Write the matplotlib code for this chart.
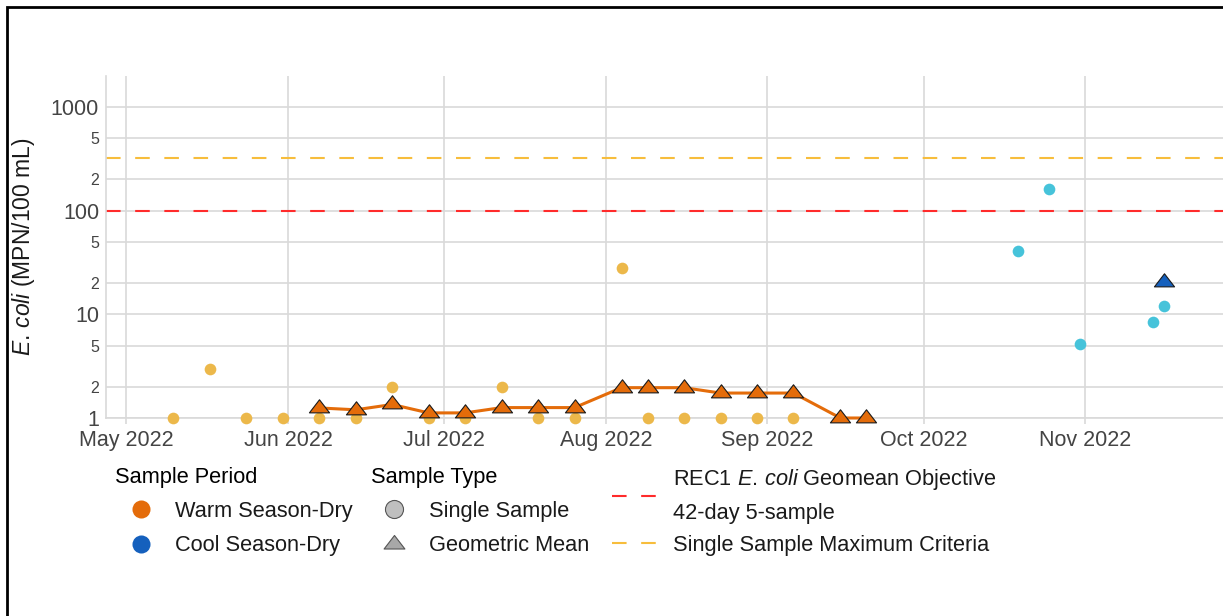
# Serie temporal de E. coli (escala log) con media geométrica
import numpy as np
import pandas as pd
import matplotlib
matplotlib.use("Agg")
import matplotlib.pyplot as plt
import matplotlib.dates as mdates
from matplotlib.lines import Line2D
from matplotlib.path import Path
from matplotlib.patches import Rectangle

plt.rcParams['font.family'] = ['Liberation Sans', 'DejaVu Sans']
plt.rcParams['mathtext.fontset'] = 'custom'
plt.rcParams['mathtext.rm'] = 'Liberation Sans'
plt.rcParams['mathtext.it'] = 'Liberation Sans:italic'

# Datos
warm_fechas = ['2022-05-10', '2022-05-17', '2022-05-24', '2022-05-31', '2022-06-07',
               '2022-06-14', '2022-06-21', '2022-06-28', '2022-07-05', '2022-07-12',
               '2022-07-19', '2022-07-26', '2022-08-04', '2022-08-09', '2022-08-16',
               '2022-08-23', '2022-08-30', '2022-09-06']
warm_valores = [1, 3, 1, 1, 1, 1, 2, 1, 1, 2, 1, 1, 28, 1, 1, 1, 1, 1]

warm_gm_fechas = ['2022-06-07', '2022-06-14', '2022-06-21', '2022-06-28', '2022-07-05',
                  '2022-07-12', '2022-07-19', '2022-07-26', '2022-08-04', '2022-08-09',
                  '2022-08-16', '2022-08-23', '2022-08-30', '2022-09-06', '2022-09-15',
                  '2022-09-20']
warm_gm_valores = [1.25, 1.2, 1.35, 1.12, 1.12, 1.26, 1.26, 1.26, 1.96, 1.96,
                   1.96, 1.74, 1.74, 1.74, 1.0, 1.0]

cool_fechas = ['2022-10-19', '2022-10-25', '2022-10-31', '2022-11-14', '2022-11-16']
cool_valores = [41, 160, 5.2, 8.4, 12]

cool_gm_fechas = ['2022-11-16']
cool_gm_valores = [20.3]

geomean_objetivo = 100
maximo_muestra = 320

y_ticks = [1, 2, 5, 10, 20, 50, 100, 200, 500, 1000]
y_etiquetas = ['1', '2', '5', '10', '2', '5', '100', '2', '5', '1000']
x_meses = ['2022-05-01', '2022-06-01', '2022-07-01', '2022-08-01',
           '2022-09-01', '2022-10-01', '2022-11-01']

# Colores
naranja = '#E46C0A'
azul = '#1560BD'
amarillo = '#ECB84A'
cian = '#46C3DA'
rojo = '#FF2B2B'
naranja_linea = '#F7BD3C'
gris_grid = '#D9D9D9'
gris_texto = '#444444'

# Triángulo estilo plotly (más ancho que alto)
triangulo = Path([(-1.155, -0.5), (1.155, -0.5), (0, 1), (-1.155, -0.5)], closed=True)

W, H = 1223, 616
fig = plt.figure(figsize=(W / 100, H / 100), dpi=100)
ax = fig.add_axes([106 / W, 1 - 418 / H, 1117 / W, 342 / H])

ax.set_yscale('log')
ax.set_ylim(1, 1986)
ax.set_xlim(pd.Timestamp('2022-04-27 02:00'), pd.Timestamp('2022-11-27 10:00'))

# Líneas de referencia
ax.axhline(maximo_muestra, color=naranja_linea, lw=1.5, dashes=(7, 7), zorder=2)
ax.axhline(geomean_objetivo, color=rojo, lw=1.5, dashes=(7, 7), zorder=2)

# Muestras individuales
ax.plot(pd.to_datetime(warm_fechas), warm_valores, ls='none', marker='o', ms=8.4,
        mfc=amarillo, mec='none', zorder=3, clip_on=False)
ax.plot(pd.to_datetime(cool_fechas), cool_valores, ls='none', marker='o', ms=8.4,
        mfc=cian, mec='none', zorder=3, clip_on=False)

# Media geométrica
ax.plot(pd.to_datetime(warm_gm_fechas), warm_gm_valores, color=naranja, lw=2.2,
        zorder=4, clip_on=False)
ax.plot(pd.to_datetime(warm_gm_fechas), warm_gm_valores, ls='none', marker=triangulo,
        ms=14.5, mfc=naranja, mec='#1a1a1a', mew=0.8, zorder=5, clip_on=False)
ax.plot(pd.to_datetime(cool_gm_fechas), cool_gm_valores, ls='none', marker=triangulo,
        ms=14.5, mfc=azul, mec='#1a1a1a', mew=0.8, zorder=5, clip_on=False)

# Ejes
ax.set_yticks(y_ticks)
ax.set_yticklabels(y_etiquetas)
ax.yaxis.set_minor_locator(matplotlib.ticker.NullLocator())
for lbl, v in zip(ax.get_yticklabels(), y_ticks):
    lbl.set_fontsize(15.5 if str(v).startswith('1') else 11.5)
    lbl.set_color(gris_texto)

ax.set_xticks(pd.to_datetime(x_meses))
ax.xaxis.set_major_formatter(mdates.DateFormatter('%b %Y'))
ax.tick_params(axis='x', length=4, width=1.2, color=gris_grid, labelsize=15.5,
               labelcolor=gris_texto, pad=4.5)
ax.tick_params(axis='y', length=0, pad=5)

ax.grid(True, color=gris_grid, lw=1.2)
ax.set_axisbelow(True)
for s in ['top', 'right']:
    ax.spines[s].set_visible(False)
ax.spines['left'].set_color(gris_grid)
ax.spines['left'].set_linewidth(1.2)
ax.spines['bottom'].set_color(gris_grid)
ax.spines['bottom'].set_linewidth(1.2)

fig.text(24 / W, 1 - 247 / H, r'$\it{E.\,coli}$ (MPN/100 mL)', rotation=90,
         ha='center', va='center', fontsize=16.5, color='#1a1a1a')

# Leyendas
fs = 15.7
top_leyenda = 1 - 467 / H
h_periodo = [Line2D([], [], ls='none', marker='o', ms=13, mfc=naranja, mec='none'),
             Line2D([], [], ls='none', marker='o', ms=13, mfc=azul, mec='none')]
leg1 = fig.legend(h_periodo, ['Warm Season-Dry', 'Cool Season-Dry'], loc='upper left',
                  bbox_to_anchor=(115 / W, top_leyenda), bbox_transform=fig.transFigure,
                  frameon=False, title='Sample Period', alignment='left', fontsize=fs,
                  title_fontsize=fs, handlelength=2.39, handletextpad=0.37,
                  labelspacing=0.6, borderpad=0, borderaxespad=0)

h_tipo = [Line2D([], [], ls='none', marker='o', ms=13, mfc='#BFBFBF', mec='#555555', mew=0.8),
          Line2D([], [], ls='none', marker=triangulo, ms=15, mfc='#A8A8A8', mec='#555555', mew=0.8)]
leg2 = fig.legend(h_tipo, ['Single Sample', 'Geometric Mean'], loc='upper left',
                  bbox_to_anchor=(371 / W, top_leyenda), bbox_transform=fig.transFigure,
                  frameon=False, title='Sample Type', alignment='left', fontsize=fs,
                  title_fontsize=fs, handlelength=2.14, handletextpad=0.54,
                  labelspacing=0.6, borderpad=0, borderaxespad=0)

h_lineas = [Line2D([], [], color=rojo, lw=1.5, dashes=(7, 7)),
            Line2D([], [], color=naranja_linea, lw=1.5, dashes=(7, 7))]
leg3 = fig.legend(h_lineas, ['REC1 $\\it{E.\\,coli}$ Geomean Objective\n42-day 5-sample',
                             'Single Sample Maximum Criteria'], loc='upper left',
                  bbox_to_anchor=(612 / W, top_leyenda), bbox_transform=fig.transFigure,
                  frameon=False, fontsize=fs, handlelength=2.06, handletextpad=0.73,
                  labelspacing=0.5, borderpad=0, borderaxespad=0)
for t in leg3.get_texts():
    t.set_linespacing(1.68)
for leg in (leg1, leg2, leg3):
    for t in leg.get_texts():
        t.set_color('#1a1a1a')

# Marco negro de la imagen
fig.add_artist(Rectangle((7 / W, -0.5), 2, 1.5 - 7 / H, transform=fig.transFigure,
                         fill=False, ec='black', lw=2, clip_on=False))

fig.savefig('out.png', dpi=100)
